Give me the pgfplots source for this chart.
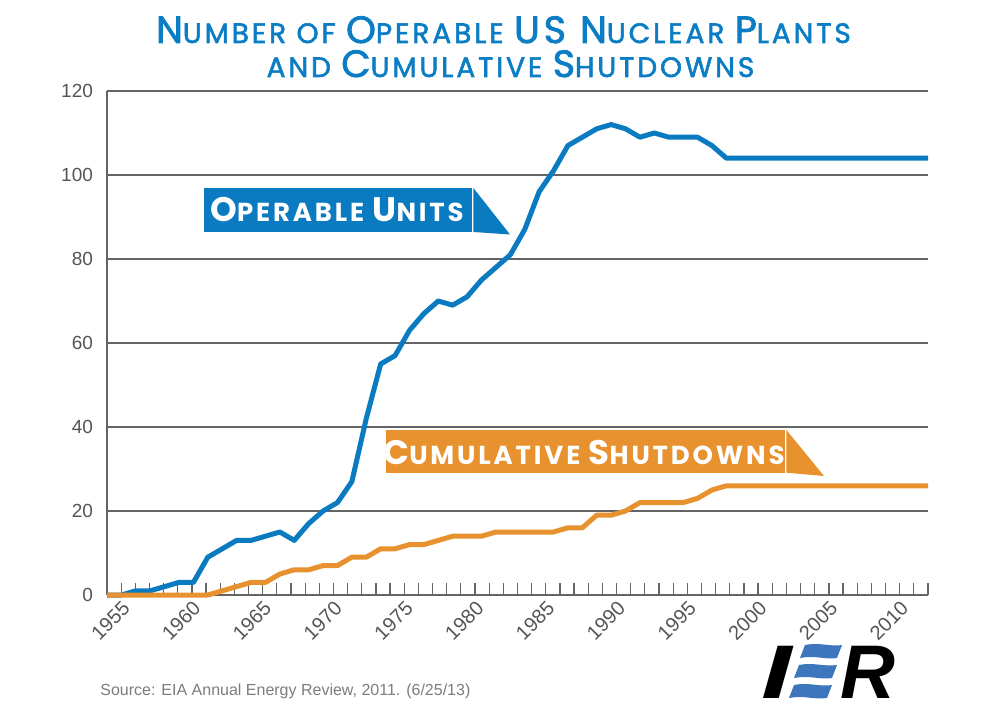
\documentclass[border=0pt]{standalone}
\usepackage{pgfplots}
\pgfplotsset{compat=1.18}
\usepackage{fontspec}
\setmainfont{Liberation Sans}
\newfontfamily\pop{Poppins}[LetterSpace=10.5, FakeBold=2]
\newfontfamily\popc{Poppins}[LetterSpace=11]
\definecolor{ierblue}{RGB}{10,123,193}
\definecolor{ierorange}{RGB}{232,146,47}
\definecolor{gridgray}{RGB}{100,100,100}
\definecolor{labgray}{RGB}{85,85,85}
\definecolor{srcgray}{RGB}{125,125,125}
\definecolor{logoblue}{RGB}{61,118,188}
\definecolor{titleblue}{RGB}{11,125,196}
\newcommand{\tb}[1]{{\fontsize{19pt}{19pt}\selectfont #1}}
\newcommand{\ts}[1]{{\fontsize{14pt}{14pt}\selectfont #1}}
\newcommand{\cb}[1]{{\fontsize{17pt}{17pt}\selectfont #1}}
\newcommand{\cs}[1]{{\fontsize{13pt}{13pt}\selectfont #1}}

% data points: one per year 1955-2012, spread evenly over the full axis width
\pgfplotstableread{
year units
1955 0
1956 0
1957 1
1958 1
1959 2
1960 3
1961 3
1962 9
1963 11
1964 13
1965 13
1966 14
1967 15
1968 13
1969 17
1970 20
1971 22
1972 27
1973 42
1974 55
1975 57
1976 63
1977 67
1978 70
1979 69
1980 71
1981 75
1982 78
1983 81
1984 87
1985 96
1986 101
1987 107
1988 109
1989 111
1990 112
1991 111
1992 109
1993 110
1994 109
1995 109
1996 109
1997 107
1998 104
1999 104
2000 104
2001 104
2002 104
2003 104
2004 104
2005 104
2006 104
2007 104
2008 104
2009 104
2010 104
2011 104
2012 104
}\unitsdata

\pgfplotstableread{
year shut
1955 0
1956 0
1957 0
1958 0
1959 0
1960 0
1961 0
1962 0
1963 1
1964 2
1965 3
1966 3
1967 5
1968 6
1969 6
1970 7
1971 7
1972 9
1973 9
1974 11
1975 11
1976 12
1977 12
1978 13
1979 14
1980 14
1981 14
1982 15
1983 15
1984 15
1985 15
1986 15
1987 16
1988 16
1989 19
1990 19
1991 20
1992 22
1993 22
1994 22
1995 22
1996 23
1997 25
1998 26
1999 26
2000 26
2001 26
2002 26
2003 26
2004 26
2005 26
2006 26
2007 26
2008 26
2009 26
2010 26
2011 26
2012 26
}\shutdata

\begin{document}
\begin{tikzpicture}
\useasboundingbox (0,0) rectangle (500pt,356pt);
\fill[white] (0,0) rectangle (500pt,356pt);
% frame axis: grid, ticks, labels
\begin{axis}[
  at={(53.5pt,58.5pt)}, anchor=south west,
  scale only axis, width=410.5pt, height=252pt,
  xmin=1954, xmax=2012, ymin=0, ymax=120,
  axis x line*=bottom, axis y line*=left,
  axis line style={gridgray, line width=0.75pt, -},
  ymajorgrids, major grid style={gridgray, line width=0.75pt},
  ytick={0,20,...,120},
  xtick={1955,1960,...,2010},
  minor xtick={1954,...,2012},
  tick align=inside,
  major tick length=6pt, minor tick length=6pt,
  tick style={gridgray, line width=0.6pt},
  /pgf/number format/1000 sep={},
  /pgf/number format/assume math mode=true,
  xticklabel style={rotate=45, anchor=north east, font=\fontsize{10}{10}\selectfont, text=labgray, inner sep=1.5pt},
  yticklabel style={font=\fontsize{9.5}{9.5}\selectfont, text=labgray, xshift=-3.5pt},
]
\end{axis}
% data axis
\begin{axis}[
  at={(53.5pt,58.5pt)}, anchor=south west,
  scale only axis, width=410.5pt, height=252pt,
  xmin=1955, xmax=2012, ymin=0, ymax=120,
  clip=false, hide axis,
]
\addplot[ierblue, line width=2.5pt, line join=round] table[x=year, y=units] {\unitsdata};
\addplot[ierorange, line width=2.5pt, line join=round] table[x=year, y=shut] {\shutdata};
\end{axis}

% title
\node[anchor=base, inner sep=0, text=titleblue] at (251.75pt,334.5pt)
  {\pop \tb{N}\ts{UMBER OF }\tb{O}\ts{PERABLE }\tb{US N}\ts{UCLEAR }\tb{P}\ts{LANTS}};
\node[anchor=base, inner sep=0, text=titleblue] at (255.25pt,317.5pt)
  {\pop \ts{AND }\tb{C}\ts{UMULATIVE }\tb{S}\ts{HUTDOWNS}};

% operable units callout
\fill[ierblue] (102pt,240pt) rectangle (236pt,262pt);
\fill[ierblue] (236.7pt,262pt) -- (236.7pt,240pt) -- (255pt,238.75pt) -- cycle;
\node[anchor=base, inner sep=0, text=white] at (168.5pt,245.2pt)
  {\popc\bfseries \cb{O}\cs{PERABLE }\cb{U}\cs{NITS}};

% cumulative shutdowns callout
\fill[ierorange] (193pt,119.65pt) rectangle (392.5pt,141pt);
\fill[ierorange] (393.2pt,141pt) -- (393.2pt,119.65pt) -- (412pt,118pt) -- cycle;
\node[anchor=base, inner sep=0, text=white] at (292pt,123.8pt)
  {\popc\bfseries \cb{C}\cs{UMULATIVE }\cb{S}\cs{HUTDOWNS}};

% source
\node[anchor=base west, inner sep=0, text=srcgray] at (50pt,8.5pt)
  {\fontsize{8}{8}\selectfont Source: EIA Annual Energy Review, 2011. (6/25/13)};

% logo
\node[anchor=base west, inner sep=0] at (380.5pt,7pt)
  {\fontsize{38}{38}\selectfont\bfseries\itshape\scalebox{1.45}[1]{I}};
\node[anchor=base west, inner sep=0] at (420pt,7pt)
  {\fontsize{38}{38}\selectfont\bfseries\itshape R};
\fill[logoblue] (400pt,27pt) .. controls (408pt,28.5pt) and (413pt,26pt) .. (418.5pt,27pt)
  -- (421pt,33.5pt) .. controls (415pt,32.5pt) and (410pt,35pt) .. (402.5pt,33.5pt) -- cycle;
\fill[logoblue] (397pt,17pt) .. controls (405pt,18.5pt) and (410pt,16pt) .. (416pt,17pt)
  -- (418.5pt,23.5pt) .. controls (412pt,22.5pt) and (407pt,25pt) .. (399.5pt,23.5pt) -- cycle;
\fill[logoblue] (394.5pt,7pt) .. controls (402pt,8.5pt) and (407pt,6pt) .. (413.5pt,7pt)
  -- (416pt,13.5pt) .. controls (409.5pt,12.5pt) and (404.5pt,15pt) .. (397pt,13.5pt) -- cycle;
\end{tikzpicture}
\end{document}
